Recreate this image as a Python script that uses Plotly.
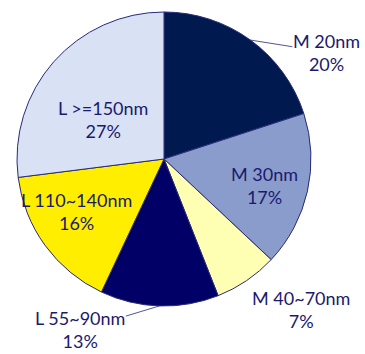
import math
import plotly.graph_objects as go

labels = ["M 20nm", "M 30nm", "M 40~70nm", "L 55~90nm", "L 110~140nm", "L >=150nm"]
values = [20, 17, 7, 13, 16, 27]
colors = ["#001a50", "#8a9ccc", "#ffffb3", "#000066", "#ffee00", "#d9e1f4"]

W, H = 365, 354
cx, cy, r = 164, 159, 147
FONT = dict(family="Lato", size=18, color="#1a1a6e")

fig = go.Figure(go.Pie(
    labels=labels, values=values, sort=False, direction="clockwise", rotation=0,
    marker=dict(colors=colors, line=dict(color="#2a2a78", width=1)),
    textinfo="none", showlegend=False, hoverinfo="label+percent",
    domain=dict(x=[(cx - r) / W, (cx + r) / W], y=[(H - cy - r) / H, (H - cy + r) / H]),
))

# label placement: (radius fraction of anchor, dx px, dy px, leader line?)
place = {
    0: (1.0, 76, 12, True),
    1: (0.7, 0, 4, False),
    2: (1.0, 54, 29, False),
    3: (1.0, -79, 24, True),
    4: (0.7, -4, -8, False),
    5: (0.7, 16, 29, False),
}
total = sum(values)
cum = 0
for i, v in enumerate(values):
    mid = (cum + v / 2) / total * 2 * math.pi
    cum += v
    frac, dx, dy, line = place[i]
    ex = cx + frac * r * math.sin(mid)
    ey = cy - frac * r * math.cos(mid)
    txt = f"{labels[i]}<br>{round(v / total * 100)}%"
    if line:
        fig.add_annotation(x=ex / W, y=1 - ey / H, xref="paper", yref="paper",
                           text=txt, showarrow=True, arrowhead=0, arrowwidth=0.8,
                           arrowcolor="#2a2a78", ax=dx, ay=dy, font=FONT, borderpad=0)
    else:
        fig.add_annotation(x=(ex + dx) / W, y=1 - (ey + dy) / H, xref="paper", yref="paper",
                           xanchor="center", yanchor="middle",
                           text=txt, showarrow=False, font=FONT)

fig.update_layout(width=W, height=H, margin=dict(l=0, r=0, t=0, b=0),
                  paper_bgcolor="white", plot_bgcolor="white")
fig.write_html("out.html")
